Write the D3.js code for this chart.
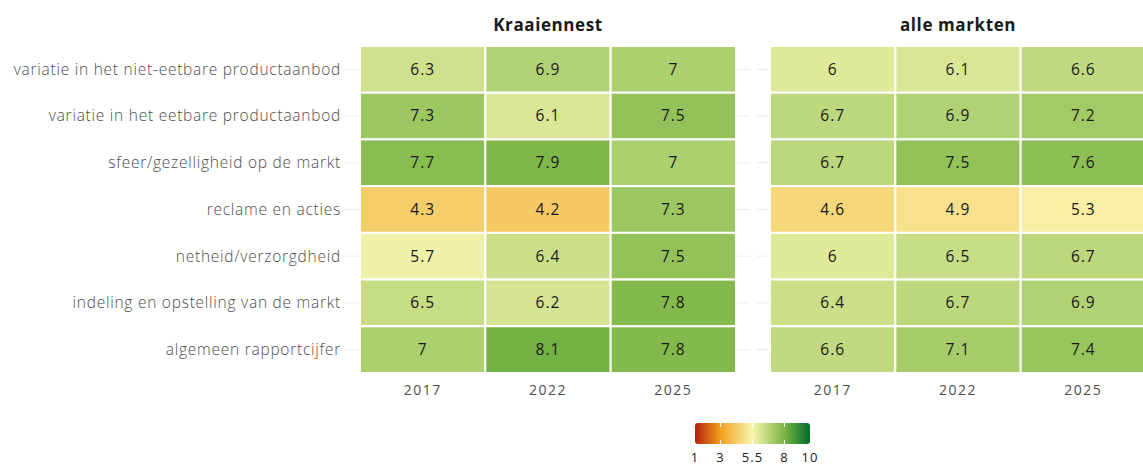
<!DOCTYPE html>
<html><head><meta charset="utf-8">
<script src="https://cdn.jsdelivr.net/npm/d3@7"></script>
<style>
body{margin:0;background:#fff;}
</style></head>
<body><svg id="c" width="1143" height="466"></svg>
<script>
const categories = [
  "variatie in het niet-eetbare productaanbod",
  "variatie in het eetbare productaanbod",
  "sfeer/gezelligheid op de markt",
  "reclame en acties",
  "netheid/verzorgdheid",
  "indeling en opstelling van de markt",
  "algemeen rapportcijfer"
];
const years = ["2017","2022","2025"];
const panels = ["Kraaiennest","alle markten"];
// values per category, per year
const kraaiennest = [
  [6.3,6.9,7.0],
  [7.3,6.1,7.5],
  [7.7,7.9,7.0],
  [4.3,4.2,7.3],
  [5.7,6.4,7.5],
  [6.5,6.2,7.8],
  [7.0,8.1,7.8]
];
const alleMarkten = [
  [6.0,6.1,6.6],
  [6.7,6.9,7.2],
  [6.7,7.5,7.6],
  [4.6,4.9,5.3],
  [6.0,6.5,6.7],
  [6.4,6.7,6.9],
  [6.6,7.1,7.4]
];
const legendTicks = [1,3,5.5,8,10];
const colorStops = ["#b3200f","#f2a01e","#f8f6b0","#7ab544","#006b2c"];

const svg = d3.select("#c");
const color = d3.scaleLinear().domain(legendTicks).range(colorStops).interpolate(d3.interpolateRgb);

const y = d3.scaleBand().domain(categories).range([46,373]).padding(0);
const panelX = [[360,736],[770,1146]];
const panelOuter = [[345,750],[757,1160]];
const data = [kraaiennest, alleMarkten];
const F = "'Open Sans',sans-serif";

// y labels
const yAxis = svg.append("g");
categories.forEach(c=>{
  yAxis.append("text").attr("x",341).attr("y",y(c)+y.bandwidth()/2).attr("dy","0.35em")
    .attr("text-anchor","end").style("font-family",F).style("font-size","15.5px").style("font-weight",300)
    .attr("letter-spacing",0.75).attr("fill","#4d4d4d").text(c);
});

panels.forEach((p,pi)=>{
  const g = svg.append("g");
  const x = d3.scaleBand().domain(years).range(panelX[pi]).padding(0);
  categories.forEach(c=>{
    g.append("line").attr("x1",panelOuter[pi][0]).attr("x2",panelOuter[pi][1])
      .attr("y1",y(c)+y.bandwidth()/2).attr("y2",y(c)+y.bandwidth()/2)
      .attr("stroke","#ebebeb").attr("stroke-width",1);
  });
  const cells = [];
  data[pi].forEach((row,ri)=>row.forEach((v,yi)=>cells.push({c:categories[ri],yr:years[yi],v})));
  g.selectAll("rect").data(cells).join("rect")
    .attr("x",d=>x(d.yr)).attr("y",d=>y(d.c)).attr("width",x.bandwidth()).attr("height",y.bandwidth())
    .attr("fill",d=>color(d.v)).attr("stroke","#fff").attr("stroke-width",2);
  g.selectAll("text.v").data(cells).join("text").attr("class","v")
    .attr("x",d=>x(d.yr)+x.bandwidth()/2).attr("y",d=>y(d.c)+y.bandwidth()/2).attr("dy","0.35em")
    .attr("text-anchor","middle").style("font-family",F).style("font-size","15.5px").attr("fill","#1a1a1a")
    .attr("letter-spacing",1)
    .text(d=>d3.format("")(d.v));
  years.forEach(yr=>{
    g.append("text").attr("x",x(yr)+x.bandwidth()/2).attr("y",390).attr("dy","0.35em")
      .attr("text-anchor","middle").style("font-family",F).style("font-size","14px")
      .attr("fill","#4d4d4d").attr("letter-spacing",1.5).text(yr);
  });
  g.append("text").attr("x",(panelX[pi][0]+panelX[pi][1])/2).attr("y",25).attr("dy","0.35em")
    .attr("text-anchor","middle").style("font-family",F).style("font-size","17px").style("font-weight",700)
    .attr("letter-spacing",0.6).attr("fill","#1a1a1a").text(p);
});

// legend
const lx = d3.scaleLinear().domain([1,10]).range([695,810]);
const defs = svg.append("defs");
const grad = defs.append("linearGradient").attr("id","lg");
legendTicks.forEach((t,i)=>grad.append("stop").attr("offset",(t-1)/9).attr("stop-color",colorStops[i]));
svg.append("rect").attr("x",lx(1)).attr("y",423).attr("width",lx(10)-lx(1)).attr("height",21)
  .attr("rx",3).attr("fill","url(#lg)");
legendTicks.slice(1,4).forEach(t=>{
  svg.append("line").attr("x1",lx(t)).attr("x2",lx(t)).attr("y1",423).attr("y2",427).attr("stroke","#fff").attr("stroke-width",1);
  svg.append("line").attr("x1",lx(t)).attr("x2",lx(t)).attr("y1",440).attr("y2",444).attr("stroke","#fff").attr("stroke-width",1);
});
legendTicks.forEach(t=>{
  svg.append("text").attr("x",lx(t)).attr("y",457.5).attr("dy","0.35em").attr("text-anchor","middle")
    .style("font-family",F).style("font-size","13px").attr("letter-spacing",1).attr("fill","#1a1a1a").text(t);
});
</script></body></html>
